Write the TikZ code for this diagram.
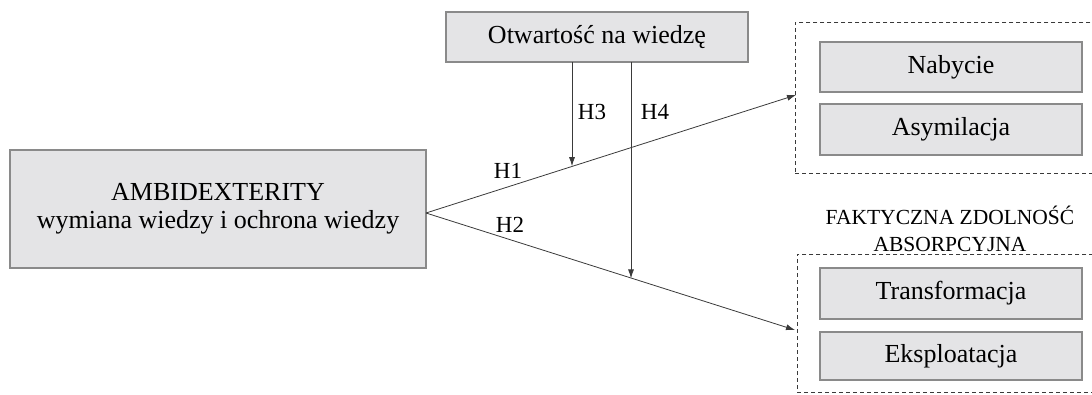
\documentclass[tikz,border=0pt]{standalone}
\usepackage{fontspec}
\setmainfont{Liberation Serif}
\usetikzlibrary{arrows.meta}
\definecolor{boxfill}{HTML}{E4E4E6}
\definecolor{boxline}{HTML}{8A8A8A}
\definecolor{lineclr}{HTML}{3A3A3A}
\begin{document}
\begin{tikzpicture}[x=1pt,y=-1pt,
  gbox/.style={draw=boxline,line width=1.2pt,fill=boxfill,inner sep=0pt,align=center,font=\fontsize{26}{30}\selectfont},
  frame/.style={draw=lineclr,dashed,line width=0.8pt,dash pattern=on 4pt off 3pt,inner sep=0pt},
  conn/.style={draw=lineclr,line width=0.8pt},
  arr/.style={conn,-{Latex[length=9pt,width=6pt]}},
  hlab/.style={font=\fontsize{23}{26}\selectfont,inner sep=0pt}]
\useasboundingbox (0,0) rectangle (1092,394);
\clip (0,0) rectangle (1092,394);
% dashed frames
\node[frame,minimum width=310pt,minimum height=151pt,anchor=north west] (fr1) at (795,22) {};
\node[frame,minimum width=310pt,minimum height=138pt,anchor=north west] (fr2) at (797,254) {};
% boxes
\node[gbox,minimum width=416pt,minimum height=118pt] (ambi) at (218,209) {AMBIDEXTERITY\\[-2pt]wymiana wiedzy i ochrona wiedzy};
\node[gbox,minimum width=302pt,minimum height=50pt] (otw) at (597,37) {Otwartość na wiedzę};
\node[gbox,minimum width=262pt,minimum height=50pt] (nab) at (951,67) {Nabycie};
\node[gbox,minimum width=262pt,minimum height=51pt] (asy) at (951,129.5) {Asymilacja};
\node[gbox,minimum width=262pt,minimum height=51pt] (tra) at (951,293.5) {Transformacja};
\node[gbox,minimum width=262pt,minimum height=48pt] (eks) at (951,356) {Eksploatacja};
\node[align=center,inner sep=0pt,font=\fontsize{21.5}{27}\selectfont] (fak) at (950,228.5) {FAKTYCZNA ZDOLNOŚĆ\\ABSORPCYJNA};
% connector points
\coordinate (src) at (426,213);
\coordinate (t1) at (796,95);
\coordinate (t2) at (795,330);
\coordinate (h3top) at (572,62);
\coordinate (h3end) at (572,166.2);
\coordinate (h4top) at (631,62);
\coordinate (h4end) at (631,278.4);
% connectors
\draw[arr] (src) -- (t1);
\draw[arr] (src) -- (t2);
\draw[arr] (h3top) -- (h3end);
\draw[arr] (h4top) -- (h4end);
% labels
\node[hlab] (H1) at (508,171) {H1};
\node[hlab] (H2) at (510,225) {H2};
\node[hlab] (H3) at (592,112) {H3};
\node[hlab] (H4) at (655,112) {H4};
\end{tikzpicture}
\end{document}
